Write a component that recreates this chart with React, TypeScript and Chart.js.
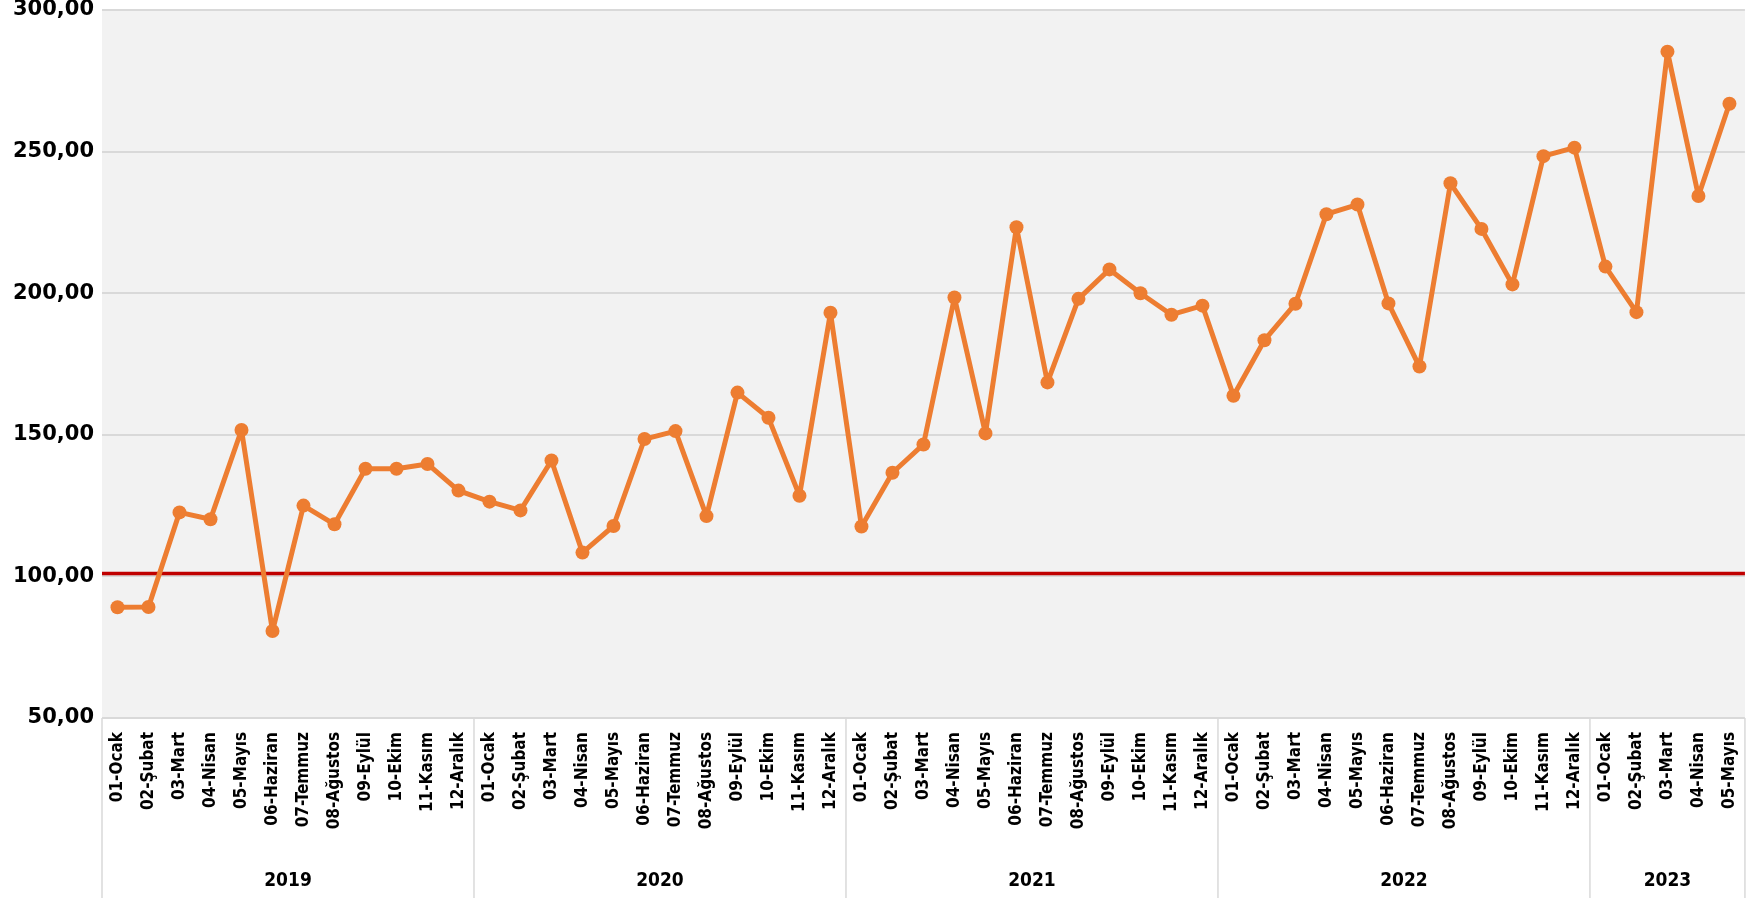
import React, { useEffect, useRef } from "react";
import { Chart, registerables } from "chart.js";

Chart.register(...registerables);

const MONTHS = [
  "01-Ocak", "02-Şubat", "03-Mart", "04-Nisan", "05-Mayıs", "06-Haziran",
  "07-Temmuz", "08-Ağustos", "09-Eylül", "10-Ekim", "11-Kasım", "12-Aralık",
];
const YEARS = ["2019", "2020", "2021", "2022", "2023"];
const YEAR_COUNTS = [12, 12, 12, 12, 5];

const VALUES_2019 = [89.1, 89.2, 122.6, 120.2, 151.7, 80.7, 125.0, 118.4, 138.0, 138.0, 139.7, 130.3];
const VALUES_2020 = [126.4, 123.3, 140.9, 108.4, 117.8, 148.5, 151.3, 121.3, 164.9, 156.0, 128.5, 193.1];
const VALUES_2021 = [117.6, 136.6, 146.6, 198.5, 150.5, 223.3, 168.5, 198.0, 208.4, 200.0, 192.4, 195.6];
const VALUES_2022 = [163.8, 183.4, 196.3, 227.9, 231.3, 196.4, 174.1, 238.8, 222.7, 203.1, 248.4, 251.4];
const VALUES_2023 = [209.4, 193.3, 285.3, 234.3, 266.9];

const REF_LINE = 101;
const Y_MIN = 50;
const Y_MAX = 300;
const Y_STEP = 50;

const LABELS: string[] = [];
YEAR_COUNTS.forEach((n) => {
  for (let i = 0; i < n; i++) LABELS.push(MONTHS[i]);
});
const VALUES = [...VALUES_2019, ...VALUES_2020, ...VALUES_2021, ...VALUES_2022, ...VALUES_2023];

const FONT = '"DejaVu Sans", sans-serif';
const FONT_COND = '"DejaVu Sans Condensed", "DejaVu Sans", sans-serif';

const decorPlugin = {
  id: "decor",
  beforeDraw(chart: any) {
    const { ctx, chartArea } = chart;
    ctx.save();
    ctx.fillStyle = "#f2f2f2";
    ctx.fillRect(chartArea.left, chartArea.top, chartArea.right - chartArea.left, chartArea.bottom - chartArea.top);
    ctx.restore();
  },
  beforeDatasetsDraw(chart: any) {
    const { ctx, chartArea, scales } = chart;
    const y = scales.y.getPixelForValue(REF_LINE);
    ctx.save();
    ctx.strokeStyle = "#c00000";
    ctx.lineWidth = 3.5;
    ctx.beginPath();
    ctx.moveTo(chartArea.left, y);
    ctx.lineTo(chartArea.right, y);
    ctx.stroke();
    ctx.restore();
  },
  afterDraw(chart: any) {
    const { ctx, chartArea, scales, height } = chart;
    const x = scales.x;
    ctx.save();
    ctx.strokeStyle = "#d9d9d9";
    ctx.lineWidth = 1.5;
    const bounds: number[] = [chartArea.left];
    let idx = 0;
    const centers: number[] = [];
    YEAR_COUNTS.forEach((n, gi) => {
      const first = idx;
      const last = idx + n - 1;
      centers.push((x.getPixelForValue(first) + x.getPixelForValue(last)) / 2);
      idx += n;
      if (gi < YEAR_COUNTS.length - 1) {
        bounds.push((x.getPixelForValue(last) + x.getPixelForValue(last + 1)) / 2);
      }
    });
    bounds.push(chartArea.right);
    bounds.forEach((bx) => {
      ctx.beginPath();
      ctx.moveTo(bx, chartArea.bottom);
      ctx.lineTo(bx, height);
      ctx.stroke();
    });
    ctx.fillStyle = "#000";
    ctx.font = `bold 19px ${FONT_COND}`;
    ctx.textAlign = "center";
    ctx.textBaseline = "middle";
    YEARS.forEach((yr, i) => {
      ctx.fillText(yr, centers[i], height - 17);
    });
    ctx.restore();
  },
};

export default function App() {
  const ref = useRef<HTMLCanvasElement>(null);
  useEffect(() => {
    document.body.style.margin = "0";
    const chart = new Chart(ref.current!, {
      type: "line",
      data: {
        labels: LABELS,
        datasets: [
          {
            data: VALUES,
            borderColor: "#ed7d31",
            backgroundColor: "#ed7d31",
            borderWidth: 5,
            borderJoinStyle: "round",
            borderCapStyle: "round",
            pointRadius: 7,
            pointBorderWidth: 0,
            pointBackgroundColor: "#ed7d31",
            tension: 0,
          },
        ],
      },
      options: {
        animation: false,
        responsive: true,
        maintainAspectRatio: false,
        layout: { padding: { top: 10, right: 17, left: 0, bottom: 0 } },
        plugins: { legend: { display: false }, tooltip: { enabled: false } },
        scales: {
          x: {
            type: "category",
            offset: true,
            grid: { display: false, drawTicks: false },
            border: { display: false },
            ticks: {
              autoSkip: false,
              maxRotation: 90,
              minRotation: 90,
              padding: 14,
              color: "#000",
              font: { family: FONT_COND, size: 17, weight: "bold" },
            },
            afterFit: (scale: any) => {
              scale.height = 180;
            },
          },
          y: {
            min: Y_MIN,
            max: Y_MAX,
            ticks: {
              stepSize: Y_STEP,
              padding: 8,
              color: "#000",
              font: { family: FONT, size: 21, weight: "bold" },
              callback: (v: any) => Number(v).toFixed(2).replace(".", ","),
            },
            grid: { color: "#d9d9d9", lineWidth: 2, drawTicks: false },
            border: { display: false },
            afterFit: (scale: any) => {
              scale.width = 102;
              scale.paddingTop = 0;
              scale.paddingBottom = 0;
            },
          },
        },
      },
      plugins: [decorPlugin],
    });
    return () => chart.destroy();
  }, []);
  return (
    <div style={{ width: 1764, height: 898, position: "relative" }}>
      <canvas ref={ref} />
    </div>
  );
}
